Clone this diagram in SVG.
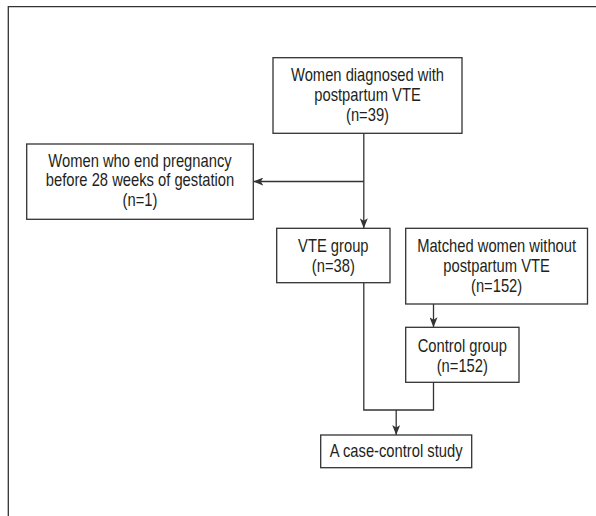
<svg xmlns="http://www.w3.org/2000/svg" width="596" height="516" viewBox="0 0 596 516">
  <style>
    .box { fill: #ffffff; stroke: #333333; stroke-width: 1.3; }
    .ln { fill: none; stroke: #333333; stroke-width: 1.3; }
    .t { font-family: "Liberation Sans", Arial, sans-serif; font-size: 18px; fill: #231f20; text-anchor: middle; }
  </style>
  <defs>
    <marker id="arr" viewBox="0 0 10 8" refX="10" refY="4" markerWidth="10" markerHeight="8" orient="auto" markerUnits="userSpaceOnUse">
      <path d="M0,0 L10,4 L0,8 L2.5,4 z" fill="#333333"/>
    </marker>
  </defs>
  <rect x="0" y="0" width="596" height="516" fill="#ffffff"/>
  <g id="frame">
    <path class="ln" d="M8.3,516 L8.3,6.7 L596,6.7"/>
  </g>
  <g id="connectors">
    <line class="ln" x1="363.8" y1="133.3" x2="363.8" y2="228.3" marker-end="url(#arr)"/>
    <line class="ln" x1="363.8" y1="181.5" x2="253.3" y2="181.5" marker-end="url(#arr)"/>
    <line class="ln" x1="433.5" y1="304" x2="433.5" y2="327.3" marker-end="url(#arr)"/>
    <path class="ln" d="M363.8,282.7 L363.8,410 L433.5,410 L433.5,382.3"/>
    <line class="ln" x1="396.2" y1="410" x2="396.2" y2="435" marker-end="url(#arr)"/>
  </g>
  <g id="n-diagnosed">
    <rect class="box" x="273" y="57.7" width="189" height="75.6"/>
    <g transform="translate(367.5 0) scale(0.82 1)">
      <text class="t" x="0" y="81">Women diagnosed with</text>
      <text class="t" x="0" y="101">postpartum VTE</text>
      <text class="t" x="0" y="121">(n=39)</text>
    </g>
  </g>
  <g id="n-excluded">
    <rect class="box" x="26.7" y="144" width="226.6" height="75.3"/>
    <g transform="translate(140 0) scale(0.82 1)">
      <text class="t" x="0" y="167">Women who end pregnancy</text>
      <text class="t" x="0" y="186.5">before 28 weeks of gestation</text>
      <text class="t" x="0" y="206">(n=1)</text>
    </g>
  </g>
  <g id="n-vte">
    <rect class="box" x="276.7" y="228.3" width="113.3" height="54.4"/>
    <g transform="translate(333.3 0) scale(0.82 1)">
      <text class="t" x="0" y="252">VTE group</text>
      <text class="t" x="0" y="272">(n=38)</text>
    </g>
  </g>
  <g id="n-matched">
    <rect class="box" x="405.7" y="228.3" width="181.8" height="75.7"/>
    <g transform="translate(496.6 0) scale(0.82 1)">
      <text class="t" x="0" y="252">Matched women without</text>
      <text class="t" x="0" y="272">postpartum VTE</text>
      <text class="t" x="0" y="292">(n=152)</text>
    </g>
  </g>
  <g id="n-control">
    <rect class="box" x="405.7" y="327.3" width="113.3" height="55"/>
    <g transform="translate(462.3 0) scale(0.82 1)">
      <text class="t" x="0" y="351.7">Control group</text>
      <text class="t" x="0" y="371.7">(n=152)</text>
    </g>
  </g>
  <g id="n-study">
    <rect class="box" x="320.7" y="435" width="151" height="32.7"/>
    <g transform="translate(396.2 0) scale(0.82 1)">
      <text class="t" x="0" y="457.5">A case-control study</text>
    </g>
  </g>
</svg>
